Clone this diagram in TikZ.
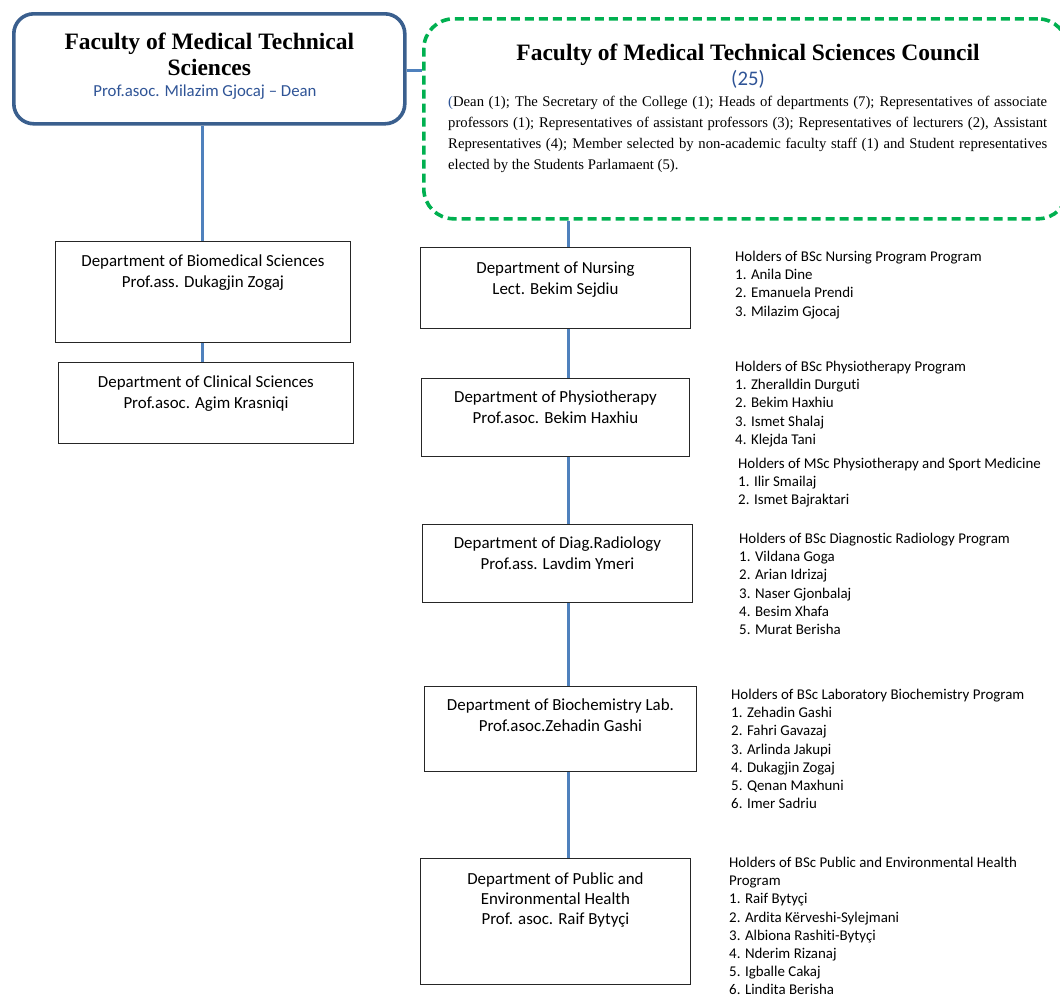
\documentclass[tikz,border=0pt]{standalone}
\usepackage{fontspec}
\setmainfont{Liberation Serif}
\newfontfamily\calfont[Ligatures=NoCommon]{Carlito}
\definecolor{deanblue}{HTML}{3A5F8E}
\definecolor{linkblue}{HTML}{4F81BD}
\definecolor{textblue}{HTML}{2F5496}
\definecolor{councilgreen}{HTML}{00B050}
\begin{document}
\begin{tikzpicture}[x=1pt,y=-1pt,
  link/.style={draw=linkblue, line width=3pt},
  deptbox/.style={draw=black!85, line width=0.9pt, fill=white, inner sep=0pt, anchor=north west},
  depttext/.style={font=\calfont\fontsize{16.9}{20.5}\selectfont, align=center, inner sep=0pt, anchor=north},
  listtext/.style={font=\calfont\fontsize{14.9}{18.2}\selectfont, align=left, inner sep=0pt, anchor=north west},
  headtext/.style={font=\bfseries\fontsize{23.5}{26}\selectfont, align=center, inner sep=0pt}
]
\useasboundingbox (0,0) rectangle (1060,997);

% faculty and council
\node[draw=deanblue, line width=3.6pt, rounded corners=20pt, minimum width=391pt, minimum height=110pt, anchor=north west, inner sep=0pt] (dean) at (12,12) {};
\node[headtext, anchor=north] (deant) at ([yshift=-21pt]dean.north) {Faculty of Medical Technical\\Sciences};
\node[font=\calfont\fontsize{16.8}{19}\selectfont, text=textblue, inner sep=0pt] (deanname) at (205,92) {Prof.asoc. Milazim Gjocaj – Dean};

\node[draw=councilgreen, line width=3.6pt, dash pattern=on 9pt off 5pt, rounded corners=30pt, minimum width=644pt, minimum height=200pt, anchor=north west, inner sep=0pt] (council) at (422,17) {};
\node[headtext, anchor=center] (councilt) at (748,55) {Faculty of Medical Technical Sciences Council};
\node[font=\calfont\fontsize{20.7}{22}\selectfont, text=textblue, inner sep=0pt] (councilnum) at (748,79) {(25)};
\node[font=\fontsize{14.7}{21}\selectfont, text width=599pt, align=justify, inner sep=0pt, anchor=north west] (councilp) at (448,96)
 {\hyphenpenalty=10000\exhyphenpenalty=10000\textcolor{textblue}{(}Dean (1); The Secretary of the College (1); Heads of departments (7); Representatives of associate professors (1); Representatives of assistant professors (3); Representatives of lecturers (2), Assistant Representatives (4); Member selected by non-academic faculty staff (1) and Student representatives elected by the Students Parlamaent (5).};

% left branch
\node[deptbox, minimum width=295pt, minimum height=101pt] (bio) at (55,241) {};
\node[depttext] (biot) at ([yshift=-14pt]bio.north) {Department of Biomedical Sciences\\Prof.ass. Dukagjin Zogaj};
\node[deptbox, minimum width=295pt, minimum height=81pt] (cli) at (58,362) {};
\node[depttext] (clit) at ([yshift=-14pt]cli.north) {Department of Clinical Sciences\\Prof.asoc. Agim Krasniqi};

% right branch
\node[deptbox, minimum width=270pt, minimum height=81pt] (nur) at (420,247) {};
\node[depttext] (nurt) at ([yshift=-15pt]nur.north) {Department of Nursing\\Lect. Bekim Sejdiu};
\node[deptbox, minimum width=268pt, minimum height=78pt] (phy) at (421,378) {};
\node[depttext] (phyt) at ([yshift=-13pt]phy.north) {Department of Physiotherapy\\Prof.asoc. Bekim Haxhiu};
\node[deptbox, minimum width=270pt, minimum height=78pt] (rad) at (422,524) {};
\node[depttext] (radt) at ([yshift=-13pt]rad.north) {Department of Diag.Radiology\\Prof.ass. Lavdim Ymeri};
\node[deptbox, minimum width=272pt, minimum height=85pt] (bch) at (424,686) {};
\node[depttext] (bcht) at ([yshift=-13pt]bch.north) {Department of Biochemistry Lab.\\Prof.asoc.Zehadin Gashi};
\node[deptbox, minimum width=270pt, minimum height=126pt] (pub) at (420,858) {};
\node[depttext, font=\calfont\fontsize{16.9}{19.6}\selectfont] (pubt) at ([yshift=-15pt]pub.north) {Department of Public and\\Environmental Health\\Prof. asoc. Raif Bytyçi};

% programme holders
\node[listtext] (nurl) at (735,251) {Holders of BSc Nursing Program Program\\1. Anila Dine\\2. Emanuela Prendi\\3. Milazim Gjocaj};
\node[listtext] (phyl) at (735,361) {Holders of BSc Physiotherapy Program\\1. Zheralldin Durguti\\2. Bekim Haxhiu\\3. Ismet Shalaj\\4. Klejda Tani};
\node[listtext] (mscl) at (738,458) {Holders of MSc Physiotherapy and Sport Medicine\\1. Ilir Smailaj\\2. Ismet Bajraktari};
\node[listtext] (radl) at (739,533) {Holders of BSc Diagnostic Radiology Program\\1. Vildana Goga\\2. Arian Idrizaj\\3. Naser Gjonbalaj\\4. Besim Xhafa\\5. Murat Berisha};
\node[listtext] (bchl) at (731,689) {Holders of BSc Laboratory Biochemistry Program\\1. Zehadin Gashi\\2. Fahri Gavazaj\\3. Arlinda Jakupi\\4. Dukagjin Zogaj\\5. Qenan Maxhuni\\6. Imer Sadriu};
\node[listtext] (publ) at (729,857) {Holders of BSc Public and Environmental Health\\Program\\1. Raif Bytyçi\\2. Ardita Kërveshi-Sylejmani\\3. Albiona Rashiti-Bytyçi\\4. Nderim Rizanaj\\5. Igballe Cakaj\\6. Lindita Berisha};

% connectors
\draw[link] (dean.east |- 0,70) -- (council.west |- 0,70);
\draw[link] (dean.south -| bio.north) -- (bio.north);
\draw[link] (bio.south) -- (bio.south |- cli.north);
\draw[link] (council.south -| 568,0) -- (nur.north -| 568,0);
\draw[link] (nur.south -| 568,0) -- (phy.north -| 568,0);
\draw[link] (phy.south -| 568,0) -- (rad.north -| 568,0);
\draw[link] (rad.south -| 568,0) -- (bch.north -| 568,0);
\draw[link] (bch.south -| 568,0) -- (pub.north -| 568,0);
\end{tikzpicture}
\end{document}
